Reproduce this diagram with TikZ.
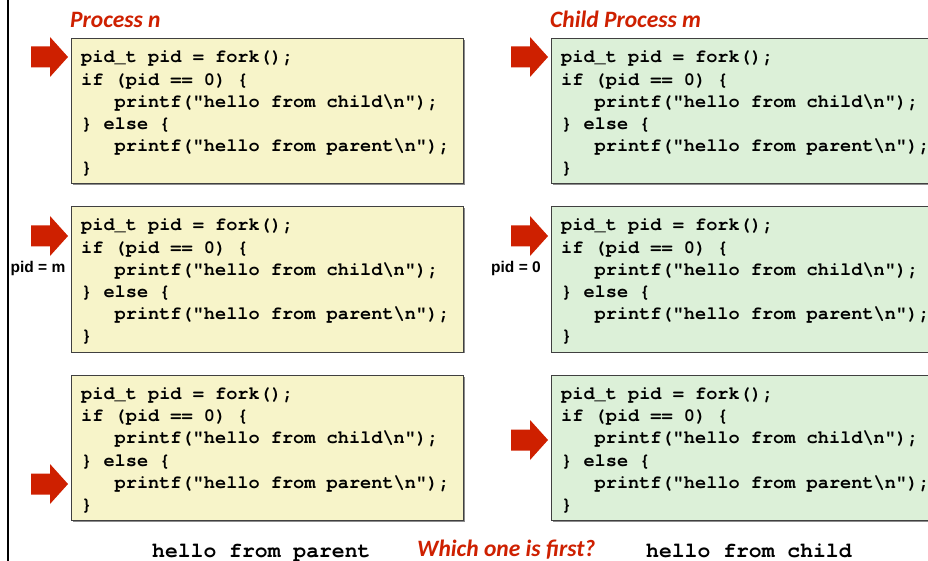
\documentclass[tikz,border=0pt]{standalone}
\usepackage{fontspec}
\usetikzlibrary{shadows}
\newfontfamily\codefont{TeX Gyre Cursor}
\newfontfamily\titlefont{Carlito}
\newfontfamily\labfont{Liberation Sans}
\definecolor{arrowred}{RGB}{206,32,0}
\definecolor{titlered}{RGB}{206,32,0}
\definecolor{parentfill}{RGB}{247,244,201}
\definecolor{childfill}{RGB}{220,240,216}
\newcommand{\forkcode}{\vtop{\baselineskip=22.2pt\lineskiplimit=-10pt
  \hbox{pid\_t pid = fork();}
  \hbox{if (pid == 0) \{}
  \hbox{\hphantom{xxx}printf("hello from child\textbackslash n");}
  \hbox{\} else \{}
  \hbox{\hphantom{xxx}printf("hello from parent\textbackslash n");}
  \hbox{\}}}}
\newcommand{\redarrow}[2]{\fill[arrowred] (#1-37,#2-10.5) -- (#1-18,#2-10.5) -- (#1-18,#2-20) -- (#1,#2) -- (#1-18,#2+20) -- (#1-18,#2+10.5) -- (#1-37,#2+10.5) -- cycle;}
\tikzset{
  codebox/.style={draw=black!75, line width=0.9pt, minimum width=392pt, minimum height=145pt,
    anchor=north west, inner sep=0pt,
    drop shadow={shadow xshift=1.3pt, shadow yshift=-1.3pt, fill=black!45, opacity=1}},
  codetext/.style={anchor=base west, inner sep=0pt, font={\codefont\bfseries\fontsize{18.6pt}{22.2pt}\selectfont}},
  outtext/.style={anchor=base west, inner sep=0pt, font={\codefont\bfseries\fontsize{21.4pt}{24pt}\selectfont}},
  titletext/.style={anchor=base west, inner sep=0pt, text=titlered, font={\titlefont\bfseries\itshape\fontsize{23.5pt}{26pt}\selectfont}},
  pidlabel/.style={anchor=base west, inner sep=0pt, font={\labfont\bfseries\fontsize{15.5pt}{18pt}\selectfont}}
}
\begin{document}
\begin{tikzpicture}[x=1pt, y=-1pt]
\useasboundingbox (0,0) rectangle (928,561);
\fill[white] (0,0) rectangle (928,561);
\draw[line width=1.5pt] (8,0) -- (8,561);

% titles
\node[titletext] (tn) at (70,28) {Process n};
\node[titletext] (tm) at (550,28) {Child Process m};

% boxes
\node[codebox, fill=parentfill] (p1) at (71,38.5) {};
\node[codebox, fill=parentfill] (p2) at (71,206.5) {};
\node[codebox, fill=parentfill] (p3) at (71,375) {};
\node[codebox, fill=childfill] (c1) at (551,38.5) {};
\node[codebox, fill=childfill] (c2) at (551,206.5) {};
\node[codebox, fill=childfill] (c3) at (551,375) {};

% code
\node[codetext] (tp1) at (81,63) {\forkcode};
\node[codetext] (tp2) at (81,231) {\forkcode};
\node[codetext] (tp3) at (81,399.5) {\forkcode};
\node[codetext] (tc1) at (561,63) {\forkcode};
\node[codetext] (tc2) at (561,231) {\forkcode};
\node[codetext] (tc3) at (561,399.5) {\forkcode};

% arrows
\redarrow{68}{57}
\redarrow{548}{57}
\redarrow{68}{236}
\redarrow{548}{236}
\redarrow{68}{484}
\redarrow{548}{440}

% pid labels
\node[pidlabel] (lm) at (10.5,272) {pid = m};
\node[pidlabel] (l0) at (491,272) {pid = 0};

% output line
\node[outtext] (op) at (152,557) {hello from parent};
\node[titletext] (q) at (417,556) {Which one is first?};
\node[outtext] (oc) at (646,557) {hello from child};
\end{tikzpicture}
\end{document}
